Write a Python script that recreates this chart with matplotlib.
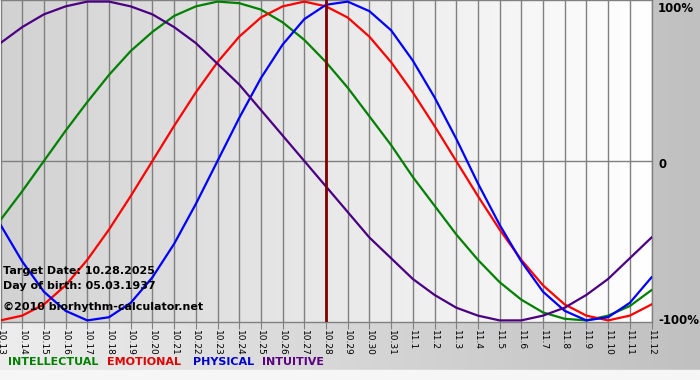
import numpy as np
import matplotlib
matplotlib.use('Agg')
import matplotlib.pyplot as plt
from matplotlib.colors import LinearSegmentedColormap

# day labels along the bottom (10.13 .. 11.12)
days = ['10.13', '10.14', '10.15', '10.16', '10.17', '10.18', '10.19', '10.20',
        '10.21', '10.22', '10.23', '10.24', '10.25', '10.26', '10.27', '10.28',
        '10.29', '10.30', '10.31', '11.1', '11.2', '11.3', '11.4', '11.5',
        '11.6', '11.7', '11.8', '11.9', '11.10', '11.11', '11.12']
target_label = '10.28'

# values, one per day (fraction of 100%)
intellectual = [-0.37, -0.19, 0.00, 0.19, 0.37, 0.54, 0.69, 0.81, 0.91, 0.97,
                1.00, 0.99, 0.95, 0.87, 0.76, 0.62, 0.46, 0.28, 0.10, -0.10,
                -0.28, -0.46, -0.62, -0.76, -0.87, -0.95, -0.99, -1.00, -0.97,
                -0.91, -0.81]
emotional = [-1.00, -0.97, -0.90, -0.78, -0.62, -0.43, -0.22, 0.00, 0.22, 0.43,
             0.62, 0.78, 0.90, 0.97, 1.00, 0.97, 0.90, 0.78, 0.62, 0.43,
             0.22, 0.00, -0.22, -0.43, -0.62, -0.78, -0.90, -0.97, -1.00,
             -0.97, -0.90]
physical = [-0.40, -0.63, -0.82, -0.94, -1.00, -0.98, -0.89, -0.73, -0.52, -0.27,
            0.00, 0.27, 0.52, 0.73, 0.89, 0.98, 1.00, 0.94, 0.82, 0.63,
            0.40, 0.14, -0.14, -0.40, -0.63, -0.82, -0.94, -1.00, -0.98,
            -0.89, -0.73]
intuitive = [0.74, 0.84, 0.92, 0.97, 1.00, 1.00, 0.97, 0.92, 0.84, 0.74,
             0.61, 0.48, 0.32, 0.16, 0.00, -0.16, -0.32, -0.48, -0.61, -0.74,
             -0.84, -0.92, -0.97, -1.00, -1.00, -0.97, -0.92, -0.84, -0.74,
             -0.61, -0.48]

c_int = '#008000'
c_emo = '#ff0000'
c_phy = '#0000ff'
c_itu = '#4b0082'

fig = plt.figure(figsize=(7, 3.8), dpi=100)

# figure background: grey gradient, white strip at the very bottom
bg = fig.add_axes([0, 0, 1, 1], zorder=-10)
bg_cmap = LinearSegmentedColormap.from_list('bg', ['#ededed', '#c0c0c0'])
bg.imshow(np.linspace(0, 1, 256)[None, :], aspect='auto', cmap=bg_cmap,
          extent=[0, 1, 0, 1])
bg.axhspan(0, 10 / 380, color='#f6f6f6')
bg.set_xlim(0, 1)
bg.set_ylim(0, 1)
bg.axis('off')

ax = fig.add_axes([0.5 / 700, 1 - 322 / 380, 651 / 700, 322 / 380])
x = np.arange(len(days))

pa_cmap = LinearSegmentedColormap.from_list('pa', ['#d2d2d2', '#ffffff'])
ax.imshow(np.linspace(0, 1, 256)[None, :], aspect='auto', cmap=pa_cmap,
          extent=[0, len(days) - 1, -1.01, 1.01], zorder=0)

for xi in x:
    ax.axvline(xi, color='#808080', lw=1, zorder=1)
ax.axhline(0, color='#808080', lw=1, zorder=1)

ax.plot(x, intellectual, color=c_int, lw=1.6, zorder=3)
ax.plot(x, emotional, color=c_emo, lw=1.6, zorder=3)
ax.plot(x, physical, color=c_phy, lw=1.6, zorder=3)
ax.plot(x, intuitive, color=c_itu, lw=1.6, zorder=3)

ax.axvline(days.index(target_label), color='#800000', lw=2, zorder=4)

ax.set_xlim(0, len(days) - 1)
ax.set_ylim(-1.01, 1.01)
ax.set_xticks(x)
ax.set_xticklabels(days, rotation=270, fontsize=6.5, family='DejaVu Sans')
ax.tick_params(axis='x', length=5, color='#808080', pad=1)
ax.set_yticks([])
for s in ax.spines.values():
    s.set_color('#808080')
    s.set_linewidth(1)
ax.spines['left'].set_visible(False)

# right-hand percentage labels
tr = ax.get_yaxis_transform()
ax.text(1.01, 1.0, '100%', transform=tr, ha='left', va='top',
        fontsize=8.5, fontweight='bold', clip_on=False)
ax.text(1.01, -0.02, '0', transform=tr, ha='left', va='center',
        fontsize=8.5, fontweight='bold', clip_on=False)
ax.text(1.01, -1.0, '-100%', transform=tr, ha='left', va='center',
        fontsize=8.5, fontweight='bold', clip_on=False)

# info text inside the plot
fig.text(3 / 700, 1 - 271 / 380, 'Target Date: 10.28.2025', fontsize=8,
         fontweight='bold', va='center', zorder=10)
fig.text(3 / 700, 1 - 286 / 380, 'Day of birth: 05.03.1937', fontsize=8,
         fontweight='bold', va='center', zorder=10)
fig.text(3 / 700, 1 - 307 / 380, '\u00a92010 biorhythm-calculator.net', fontsize=8,
         fontweight='bold', va='center', zorder=10)

# legend row
legend_items = [('INTELLECTUAL', c_int, 8), ('EMOTIONAL', '#e00000', 107),
                ('PHYSICAL', '#0000cc', 193), ('INTUITIVE', '#5a0080', 262)]
for name, col, px in legend_items:
    fig.text(px / 700, 1 - 362 / 380, name, color=col, fontsize=8,
             fontweight='bold', va='center')

fig.savefig('out.png', dpi=100)
